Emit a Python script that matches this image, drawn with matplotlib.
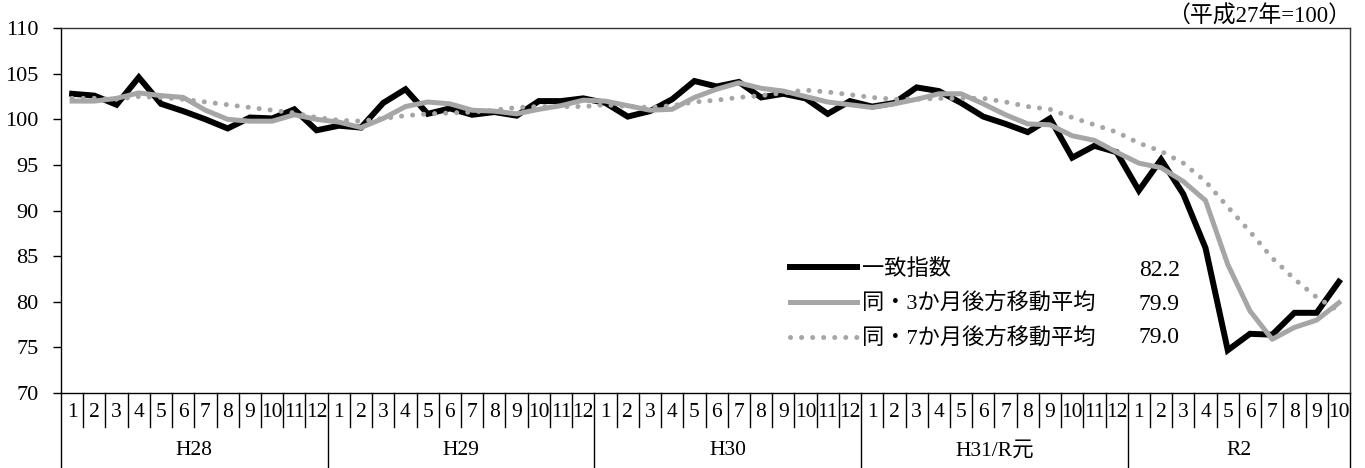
import matplotlib
matplotlib.use("Agg")
import matplotlib.pyplot as plt
import matplotlib.transforms as mtransforms

plt.rcParams['font.family'] = ['Liberation Serif', 'Noto Sans CJK JP']

# years and months on the x axis
years = ['H28', 'H29', 'H30', 'H31/R元', 'R2']
months_per_year = [12, 12, 12, 12, 10]

# 一致指数
ci = [102.8, 102.6, 101.6, 104.6, 101.7, 100.9, 100.0, 99.0, 100.2, 100.1, 101.1, 98.8,
      99.3, 99.1, 101.8, 103.3, 100.6, 101.2, 100.5, 100.8, 100.4, 102.0, 102.0, 102.3,
      101.8, 100.3, 100.9, 102.2, 104.2, 103.6, 104.1, 102.4, 102.8, 102.3, 100.6, 102.0,
      101.4, 101.8, 103.5, 103.1, 101.8, 100.3, 99.5, 98.6, 100.1, 95.8, 97.1, 96.4,
      92.2, 95.6, 91.8, 85.9, 74.7, 76.5, 76.4, 78.8, 78.8, 82.2]

# 3か月後方移動平均
ma3 = [102.0, 102.0, 102.3, 102.9, 102.6, 102.4, 101.0, 100.0, 99.8, 99.8, 100.5, 100.0,
       99.7, 99.1, 100.1, 101.4, 101.9, 101.7, 101.0, 100.9, 100.6, 101.1, 101.5, 102.1,
       102.0, 101.5, 101.0, 101.1, 102.4, 103.3, 104.0, 103.4, 103.1, 102.5, 101.9, 101.6,
       101.3, 101.7, 102.2, 102.8, 102.8, 101.7, 100.5, 99.5, 99.4, 98.2, 97.7, 96.4,
       95.2, 94.7, 93.2, 91.1, 84.1, 79.0, 75.9, 77.2, 78.0, 79.9]

# 7か月後方移動平均
ma7 = [102.3, 102.3, 102.2, 102.5, 102.4, 102.2, 101.9, 101.6, 101.3, 101.0, 100.7, 100.2,
       99.9, 99.8, 100.1, 100.4, 100.6, 100.7, 100.8, 101.0, 101.3, 101.4, 101.4, 101.4,
       101.6, 101.4, 101.3, 101.5, 101.9, 102.1, 102.4, 102.6, 102.9, 103.2, 103.0, 102.7,
       102.4, 102.2, 102.2, 102.3, 102.3, 102.3, 101.9, 101.4, 101.1, 100.2, 99.4, 98.6,
       97.4, 96.5, 95.2, 93.2, 90.4, 87.7, 84.8, 82.5, 80.5, 79.0]

labels = ['一致指数', '同・3か月後方移動平均', '同・7か月後方移動平均']

x = list(range(len(ci)))

fig = plt.figure(figsize=(13.65, 4.68), dpi=100)
ax = fig.add_axes([0.0447, 0.160, 0.9443, 0.780])

l1, = ax.plot(x, ci, color='black', linewidth=4.3, solid_joinstyle='miter', label=labels[0])
l2, = ax.plot(x, ma3, color='#a6a6a6', linewidth=3.6, label=labels[1])
l3, = ax.plot(x, ma7, color='#a6a6a6', linewidth=3.6, linestyle=(0, (0.01, 2.2)),
              dash_capstyle='round', label=labels[2])

ax.set_xlim(-0.5, len(ci) - 0.5)
ax.set_ylim(70, 110)
ax.set_yticks(range(70, 111, 5))
ax.tick_params(axis='y', direction='out', length=6, width=1, labelsize=16, pad=10)
ax.set_xticks([])
for s in ax.spines.values():
    s.set_linewidth(1.0)
    s.set_color('#333333')
ax.spines['bottom'].set_color('black')
ax.spines['left'].set_color('black')

# month labels and separators below the axis
trans = mtransforms.blended_transform_factory(ax.transData, ax.transAxes)
i = 0
for yr, n in zip(years, months_per_year):
    ax.plot([i - 0.5, i - 0.5], [0, -0.205], transform=trans, color='black',
            linewidth=1.0, clip_on=False)
    for m in range(1, n + 1):
        ax.text(i + m - 1, -0.052, str(m), transform=trans, ha='center', va='center',
                fontsize=15.5)
        if m < n:
            ax.plot([i + m - 0.5, i + m - 0.5], [0, -0.093], transform=trans,
                    color='black', linewidth=1.0, clip_on=False)
    ax.text(i + (n - 1) / 2, -0.158, yr, transform=trans, ha='center', va='center',
            fontsize=15.5)
    i += n
ax.plot([i - 0.5, i - 0.5], [0, -0.205], transform=trans, color='black',
        linewidth=1.0, clip_on=False)

# legend with last values
leg = ax.legend(handles=[l1, l2, l3], loc='upper left', bbox_to_anchor=(0.5655, 0.368),
                frameon=False, fontsize=16, handlelength=3.0, handletextpad=0.25,
                labelspacing=0.62, borderpad=0, borderaxespad=0)
last_vals = [ci[-1], ma3[-1], ma7[-1]]
for k, v in enumerate(last_vals):
    ax.text(0.868, 0.337 - k * 0.093, f'{v:.1f}', transform=ax.transAxes,
            ha='right', va='center', fontsize=17)

fig.text(0.990, 0.964, '（平成27年=100）', ha='right', va='center', fontsize=16.5)

fig.savefig('out.png', dpi=100)
